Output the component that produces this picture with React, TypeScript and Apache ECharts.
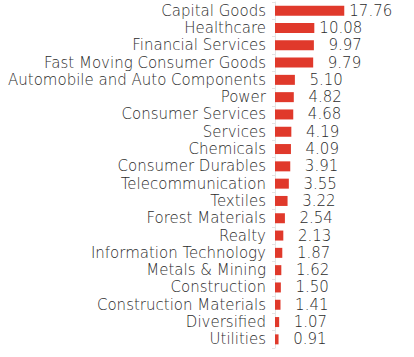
import React, { useEffect, useRef } from "react";
import * as echarts from "echarts";

const categories = [
  "Capital Goods",
  "Healthcare",
  "Financial Services",
  "Fast Moving Consumer Goods",
  "Automobile and Auto Components",
  "Power",
  "Consumer Services",
  "Services",
  "Chemicals",
  "Consumer Durables",
  "Telecommunication",
  "Textiles",
  "Forest Materials",
  "Realty",
  "Information Technology",
  "Metals & Mining",
  "Construction",
  "Construction Materials",
  "Diversified",
  "Utilities",
];

const values = [
  17.76, 10.08, 9.97, 9.79, 5.1, 4.82, 4.68, 4.19, 4.09, 3.91, 3.55, 3.22, 2.54,
  2.13, 1.87, 1.62, 1.5, 1.41, 1.07, 0.91,
];

const FONT = "DejaVu Sans";

export default function App() {
  const ref = useRef<HTMLDivElement>(null);
  useEffect(() => {
    if (!ref.current) return;
    const chart = echarts.init(ref.current, undefined, { renderer: "svg" });
    chart.setOption({
      animation: false,
      grid: { left: 275, top: 2, width: 78, bottom: 9 },
      xAxis: {
        type: "value",
        min: 0,
        max: 20,
        show: false,
      },
      yAxis: {
        type: "category",
        inverse: true,
        data: categories,
        axisLine: { show: true, lineStyle: { color: "#e4e4e4", width: 1 } },
        axisTick: { show: true, length: 3, lineStyle: { color: "#e4e4e4" } },
        axisLabel: {
          interval: 0,
          color: "#2b2b2b",
          fontSize: 15,
          fontWeight: 200,
          fontFamily: FONT,
          margin: 9,
        },
      },
      series: [
        {
          type: "bar",
          data: values,
          barWidth: 10,
          itemStyle: { color: "#e0392b" },
          label: {
            show: true,
            position: "right",
            distance: 4,
            formatter: (p: any) => "{v|" + Number(p.value).toFixed(2) + "}",
            rich: {
              v: {
                width: 44,
                align: "right",
                color: "#2b2b2b",
                fontSize: 15,
                fontWeight: 200,
                fontFamily: FONT,
              },
            },
          },
        },
      ],
    });
    return () => chart.dispose();
  }, []);
  return (
    <div
      ref={ref}
      style={{ position: "absolute", left: 0, top: 0, width: 414, height: 357 }}
    />
  );
}
